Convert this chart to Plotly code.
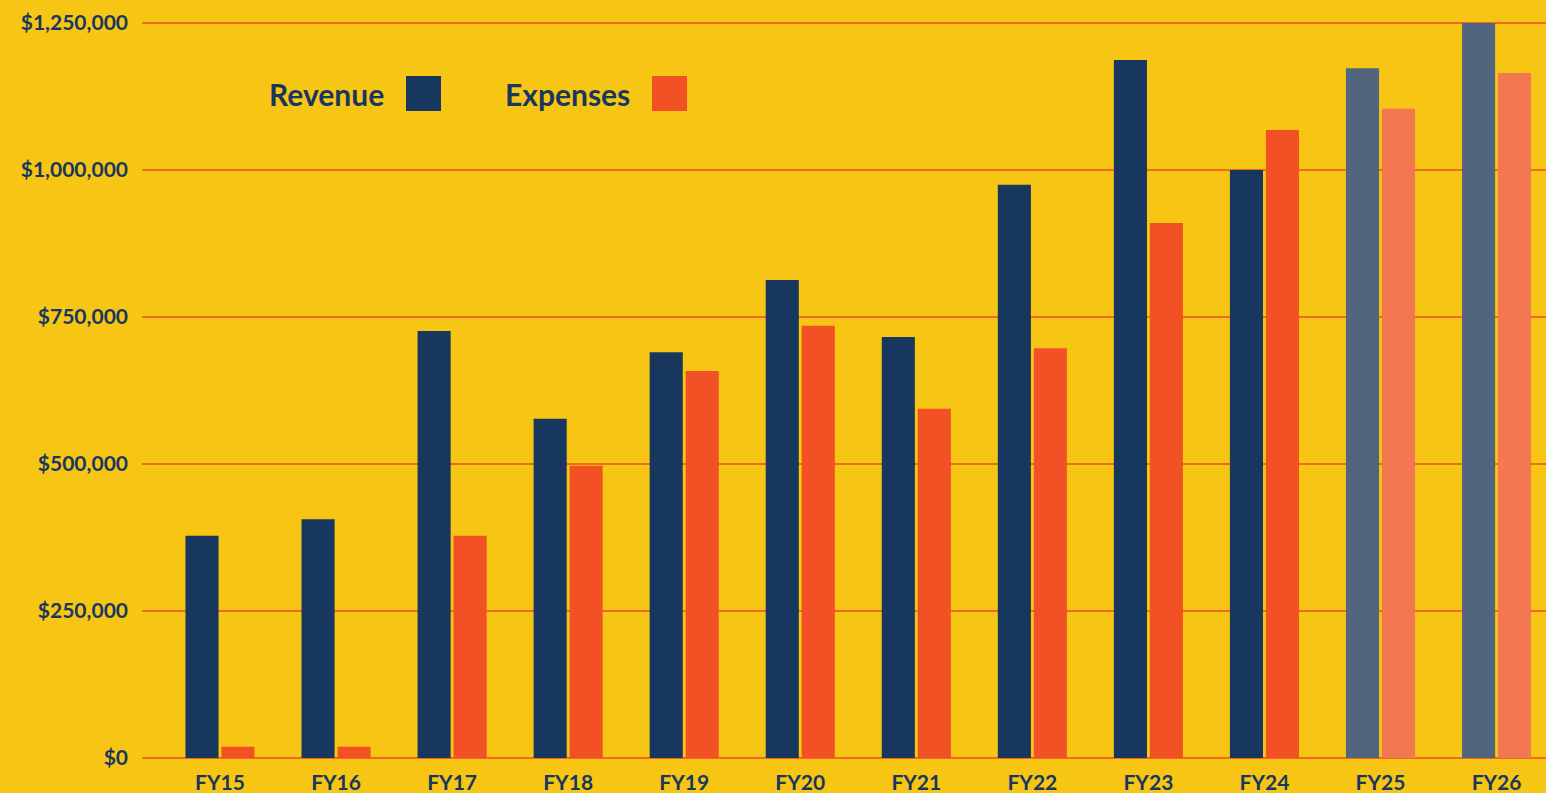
import plotly.graph_objects as go

categories = ["FY15", "FY16", "FY17", "FY18", "FY19", "FY20", "FY21", "FY22", "FY23", "FY24", "FY25", "FY26"]
revenue = [378000, 406000, 726000, 577000, 690000, 813000, 716000, 975000, 1187000, 1000000, 1173000, 1250000]
expenses = [19000, 19000, 378000, 497000, 658000, 735000, 594000, 697000, 910000, 1068000, 1104000, 1165000]
projected = [False] * 10 + [True, True]

tick_vals = [0, 250000, 500000, 750000, 1000000, 1250000]
tick_text = ["$0", "$250,000", "$500,000", "$750,000", "$1,000,000", "$1,250,000"]

BG = "#F7C614"
NAVY = "#18375F"
NAVY_LIGHT = "#51667E"
ORANGE = "#F15124"
ORANGE_LIGHT = "#F37852"
GRID = "#F26A1F"
FONT = "Lato"

rev_colors = [NAVY_LIGHT if p else NAVY for p in projected]
exp_colors = [ORANGE_LIGHT if p else ORANGE for p in projected]

fig = go.Figure()
fig.add_trace(go.Bar(x=categories, y=revenue, name="Revenue",
                     marker=dict(color=rev_colors, line=dict(width=0))))
fig.add_trace(go.Bar(x=categories, y=expenses, name="Expenses",
                     marker=dict(color=exp_colors, line=dict(width=0))))

W, H = 1546, 793
ML, MR, MT, MB = 142, 0, 0, 35
pw, ph = W - ML - MR, H - MT - MB

def px(x):
    return (x - ML) / pw

def py(y):
    return 1 - (y - MT) / ph

ymax = 1250000 * ph / (758 - 23)
unit = 116.05
r0 = -(220 - ML) / unit
r1 = r0 + pw / unit

fig.update_layout(
    width=W, height=H,
    margin=dict(l=ML, r=MR, t=MT, b=MB, pad=0),
    paper_bgcolor=BG, plot_bgcolor=BG,
    barmode="group", bargap=0.38, bargroupgap=0.08,
    showlegend=False,
    font=dict(family=FONT, color=NAVY, size=20, weight="bold"),
    xaxis=dict(range=[r0, r1], showgrid=False, zeroline=False, showline=False,
               ticks="", ticklabelstandoff=10,
               tickfont=dict(family=FONT, size=21, color=NAVY, weight="bold")),
    yaxis=dict(range=[0, ymax], tickvals=tick_vals, ticktext=tick_text,
               showgrid=True, gridcolor=GRID, gridwidth=2,
               zeroline=True, zerolinecolor=GRID, zerolinewidth=2,
               showline=False, ticks="", ticklabelstandoff=13,
               tickfont=dict(family=FONT, size=21, color=NAVY, weight="bold")),
)

# legend (text left of swatch)
fig.add_annotation(xref="paper", yref="paper", x=px(386), y=py(94),
                   xanchor="right", yanchor="middle", text="Revenue", showarrow=False,
                   font=dict(family=FONT, size=30, color=NAVY, weight="bold"))
fig.add_annotation(xref="paper", yref="paper", x=px(632), y=py(94),
                   xanchor="right", yanchor="middle", text="Expenses", showarrow=False,
                   font=dict(family=FONT, size=30, color=NAVY, weight="bold"))
fig.add_shape(type="rect", xref="paper", yref="paper",
              x0=px(406), x1=px(441), y0=py(111), y1=py(76),
              fillcolor=NAVY, line=dict(width=0))
fig.add_shape(type="rect", xref="paper", yref="paper",
              x0=px(652), x1=px(687), y0=py(111), y1=py(76),
              fillcolor=ORANGE, line=dict(width=0))

fig.write_html("out.html", config={"displayModeBar": False},
               post_script="document.body.style.margin='0';document.body.style.overflow='hidden';")
